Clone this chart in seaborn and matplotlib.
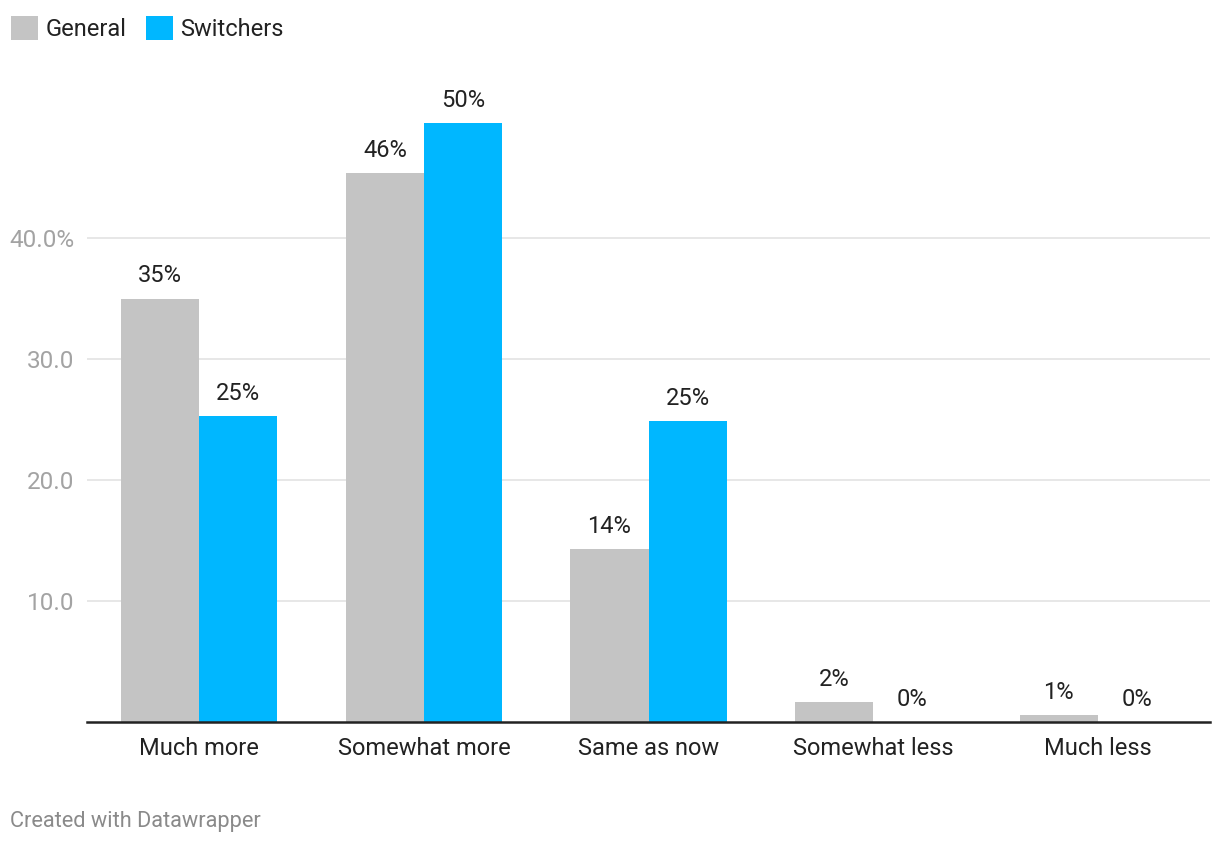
import matplotlib
matplotlib.use("Agg")
import matplotlib.pyplot as plt
import seaborn as sns
import pandas as pd
from matplotlib.patches import Patch

categories = ["Much more", "Somewhat more", "Same as now", "Somewhat less", "Much less"]
general = [35.0, 45.4, 14.3, 1.65, 0.6]
switchers = [25.3, 49.5, 24.9, 0.0, 0.0]
general_labels = ["35%", "46%", "14%", "2%", "1%"]
switchers_labels = ["25%", "50%", "25%", "0%", "0%"]
series = ["General", "Switchers"]
colors = ["#c4c4c4", "#00b7ff"]
yticks = [10, 20, 30, 40]
ytick_labels = ["10.0", "20.0", "30.0", "40.0%"]

df = pd.DataFrame({
    "category": categories * 2,
    "series": ["General"] * len(categories) + ["Switchers"] * len(categories),
    "value": general + switchers,
})

sns.set_theme(style="white")
plt.rcParams["font.family"] = ["Roboto", "DejaVu Sans"]

fig = plt.figure(figsize=(12.2, 8.44), dpi=100)
ax = fig.add_axes([87 / 1220, (844 - 722) / 844, (1210 - 87) / 1220, (722 - 117) / 844])

sns.barplot(data=df, x="category", y="value", hue="series", order=categories,
            hue_order=series, palette=colors, width=0.695, gap=0, saturation=1,
            errorbar=None, ax=ax, legend=False, linewidth=0)

ax.set_xlim(-0.5, len(categories) - 0.5)
ax.set_ylim(0, 50)
ax.set_yticks(yticks)
ax.set_yticklabels(ytick_labels)
ax.yaxis.grid(True, color="#e3e3e3", linewidth=1.2)
ax.set_axisbelow(True)
for s in ["top", "right", "left"]:
    ax.spines[s].set_visible(False)
ax.spines["bottom"].set_color("#222222")
ax.spines["bottom"].set_linewidth(1.8)
ax.tick_params(axis="y", length=0, pad=9, labelsize=17.5, labelcolor="#a3a3a3")
ax.tick_params(axis="x", length=0, pad=11, labelsize=17, labelcolor="#222222")
ax.set_xlabel("")
ax.set_ylabel("")

for cont, labs in zip(ax.containers, [general_labels, switchers_labels]):
    ax.bar_label(cont, labels=labs, padding=8, fontsize=17, color="#222222")

handles = [Patch(facecolor=c, edgecolor="none", label=s) for c, s in zip(colors, series)]
fig.legend(handles=handles, loc="upper left", bbox_to_anchor=(-0.0035, 0.9995), ncol=2,
           frameon=False, fontsize=17, handlelength=1.15, handleheight=1.2,
           handletextpad=0.3, columnspacing=0.85, borderaxespad=0.3, borderpad=0.35,
           labelcolor="#222222")

fig.text(10 / 1220, 1 - 821 / 844, "Created with Datawrapper", fontsize=15.7,
         color="#8a8a8a", va="center", ha="left")

fig.savefig("out.png", dpi=100)
